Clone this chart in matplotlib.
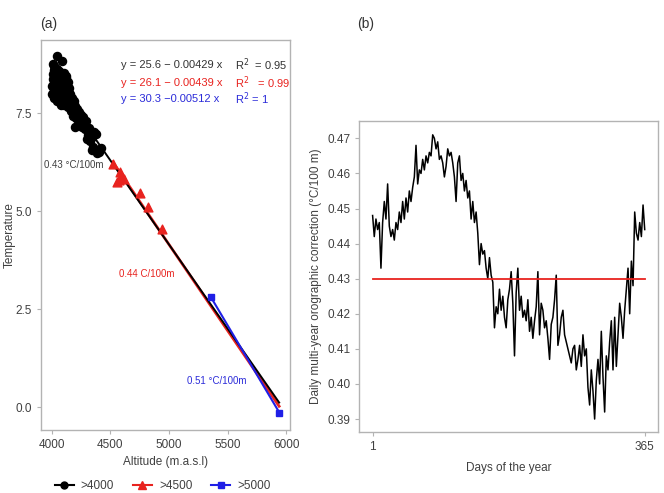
import numpy as np
import matplotlib
matplotlib.use("Agg")
import matplotlib.pyplot as plt
from matplotlib.lines import Line2D

plt.rcParams['font.family'] = ['Liberation Sans', 'DejaVu Sans']

# panel (a): stations above 4000 m
alt_4000 = [4040, 4085, 4010, 4020, 4030, 4015, 4035, 4045, 4060, 4008, 4025, 4050, 4070, 4090,
            4012, 4030, 4055, 4080, 4100, 4018, 4040, 4065, 4095, 4110, 4005, 4028, 4050, 4075,
            4105, 4125, 4015, 4035, 4060, 4085, 4115, 4140, 4010, 4030, 4045, 4070, 4095, 4130,
            4155, 4050, 4080, 4110, 4145, 4170, 4020, 4090, 4120, 4160, 4185, 4140, 4175, 4200,
            4215, 4160, 4195, 4230, 4250, 4180, 4210, 4240, 4270, 4260, 4295, 4200, 4225, 4255,
            4285, 4320, 4310, 4340, 4300, 4330, 4360, 4375, 4350, 4370, 4385, 4405, 4420, 4340,
            4120, 4140, 4150, 4130, 4100, 4165, 4060, 4040, 4005, 4100, 4125, 4150, 4190, 4075]
temp_4000 = [8.95, 8.84, 8.75, 8.70, 8.65, 8.60, 8.55, 8.62, 8.58, 8.50, 8.45, 8.48, 8.52, 8.45,
             8.38, 8.35, 8.40, 8.38, 8.42, 8.28, 8.25, 8.30, 8.28, 8.32, 8.20, 8.18, 8.15, 8.20,
             8.18, 8.22, 8.10, 8.05, 8.08, 8.10, 8.05, 8.12, 7.98, 7.95, 8.00, 7.98, 7.95, 7.98,
             8.00, 7.88, 7.85, 7.88, 7.85, 7.90, 7.90, 7.78, 7.75, 7.75, 7.80, 7.65, 7.62, 7.68,
             7.60, 7.55, 7.50, 7.52, 7.45, 7.42, 7.38, 7.35, 7.40, 7.28, 7.30, 7.15, 7.22, 7.15,
             7.10, 7.12, 6.95, 6.90, 6.85, 6.80, 7.02, 6.98, 6.65, 6.55, 6.48, 6.50, 6.62, 6.55,
             8.40, 8.30, 8.15, 7.92, 7.70, 7.70, 7.95, 7.82, 8.00, 8.52, 8.45, 8.02, 7.55, 7.70]

alt_4500 = [4526, 4583, 4597, 4569, 4617, 4560, 4754, 4819, 4944]
temp_4500 = [6.20, 6.01, 5.88, 5.80, 5.83, 5.75, 5.46, 5.12, 4.54]

alt_5000 = [5357, 5942]
temp_5000 = [2.81, -0.14]

# fitted lines (intercept, slope)
fit_4000 = (25.6, -0.00429)
fit_4500 = (26.1, -0.00439)

# panel (b): daily multi-year orographic correction
corr = [0.448, 0.442, 0.447, 0.444, 0.446, 0.433, 0.446, 0.452, 0.447, 0.457, 0.445, 0.442,
        0.444, 0.441, 0.446, 0.444, 0.449, 0.446, 0.452, 0.447, 0.453, 0.449, 0.455, 0.452,
        0.456, 0.459, 0.468, 0.457, 0.461, 0.460, 0.464, 0.461, 0.465, 0.463, 0.466, 0.465,
        0.471, 0.470, 0.467, 0.469, 0.464, 0.465, 0.463, 0.459, 0.462, 0.467, 0.465, 0.466,
        0.463, 0.459, 0.452, 0.463, 0.465, 0.458, 0.460, 0.455, 0.458, 0.453, 0.455, 0.447,
        0.452, 0.446, 0.449, 0.443, 0.434, 0.440, 0.437, 0.438, 0.433, 0.430, 0.436, 0.431,
        0.429, 0.416, 0.422, 0.420, 0.427, 0.421, 0.425, 0.419, 0.416, 0.424, 0.427, 0.432,
        0.423, 0.408, 0.426, 0.433, 0.421, 0.425, 0.419, 0.421, 0.418, 0.424, 0.415, 0.419,
        0.413, 0.418, 0.422, 0.432, 0.414, 0.423, 0.421, 0.416, 0.418, 0.413, 0.407, 0.417,
        0.419, 0.424, 0.431, 0.411, 0.414, 0.419, 0.421, 0.414, 0.412, 0.410, 0.408, 0.406,
        0.410, 0.411, 0.404, 0.407, 0.411, 0.405, 0.414, 0.408, 0.410, 0.399, 0.394, 0.404,
        0.398, 0.390, 0.401, 0.407, 0.400, 0.415, 0.402, 0.392, 0.408, 0.404, 0.412, 0.418,
        0.404, 0.419, 0.405, 0.414, 0.423, 0.419, 0.413, 0.421, 0.427, 0.433, 0.420, 0.435,
        0.428, 0.449, 0.443, 0.441, 0.446, 0.442, 0.451, 0.444]
mean_corr = 0.43

txt = '#404040'
spine = '#b3b3b3'

fig = plt.figure(figsize=(6.64, 4.93), dpi=100)
ax1 = fig.add_axes([0.062, 0.128, 0.375, 0.791])
ax2 = fig.add_axes([0.541, 0.123, 0.450, 0.632])

# ---- (a)
xs = np.array([4000, 5940])
ax1.plot([4520, 5940], fit_4500[0] + fit_4500[1] * np.array([4520, 5940]), color='#e8231f', lw=2, zorder=2)
ax1.plot(xs, fit_4000[0] + fit_4000[1] * xs, color='black', lw=1.4, zorder=3)
ax1.plot(alt_5000, temp_5000, color='#1f1fe6', lw=1.5, marker='s', ms=5, zorder=4)
ax1.scatter(alt_4000, temp_4000, s=34, color='black', zorder=5)
ax1.scatter(alt_4500, temp_4500, s=40, marker='^', color='#e8231f', zorder=5)

ax1.set_xlim(3909, 6034)
ax1.set_ylim(-0.58, 9.37)
ax1.set_xticks([4000, 4500, 5000, 5500, 6000])
ax1.set_yticks([0.0, 2.5, 5.0, 7.5])
ax1.set_yticklabels(['0.0', '2.5', '5.0', '7.5'])
ax1.set_xlabel('Altitude (m.a.s.l)', fontsize=8.5, color=txt)
ax1.set_ylabel('Temperature', fontsize=8.5, color=txt, labelpad=0)

ax1.text(4589, 8.73, 'y = 25.6 − 0.00429 x', fontsize=8, color='#333333', va='center')
ax1.text(5564, 8.73, 'R$^2$  = 0.95', fontsize=8, color='#333333', va='center')
ax1.text(4589, 8.28, 'y = 26.1 − 0.00439 x', fontsize=8, color='#e8231f', va='center')
ax1.text(5564, 8.28, 'R$^2$   = 0.99', fontsize=8, color='#e8231f', va='center')
ax1.text(4589, 7.86, 'y = 30.3 −0.00512 x', fontsize=8, color='#2b2bd9', va='center')
ax1.text(5564, 7.86, 'R$^2$ = 1', fontsize=8, color='#2b2bd9', va='center')

ax1.text(3929, 6.18, '0.43 °C/100m', fontsize=7, color='#404040', va='center')
ax1.text(4569, 3.39, '0.44 C/100m', fontsize=7, color='#e8231f', va='center')
ax1.text(5152, 0.67, '0.51 °C/100m', fontsize=7, color='#2b2bd9', va='center')

handles = [Line2D([], [], color='black', marker='o', lw=1.5, ms=5),
           Line2D([], [], color='#e8231f', marker='^', lw=1.5, ms=6),
           Line2D([], [], color='#1f1fe6', marker='s', lw=1.5, ms=5)]
fig.legend(handles, ['>4000', '>4500', '>5000'], loc='center', bbox_to_anchor=(0.245, 0.014),
           ncol=3, frameon=False, fontsize=8.5, handlelength=1.6, columnspacing=1.6,
           handletextpad=0.6, labelcolor=txt)

# ---- (b)
days = np.linspace(1, 365, len(corr))
ax2.plot(days, corr, color='black', lw=1.1)
ax2.plot([1, 365], [mean_corr, mean_corr], color='#e8231f', lw=1.3)
ax2.set_xlim(-16.9, 382.8)
ax2.set_ylim(0.3862, 0.475)
ax2.set_xticks([1, 365])
ax2.set_yticks([0.39, 0.40, 0.41, 0.42, 0.43, 0.44, 0.45, 0.46, 0.47])
ax2.set_xlabel('Days of the year', fontsize=8.5, color=txt, labelpad=6)
ax2.set_ylabel('Daily multi-year orographic correction (°C/100 m)', fontsize=8.5, color=txt)

for ax in (ax1, ax2):
    for s in ax.spines.values():
        s.set_color(spine)
        s.set_linewidth(1)
    ax.tick_params(colors=spine, labelcolor=txt, labelsize=8.5, length=3)

fig.text(40 / 664, 1 - 24 / 493, '(a)', fontsize=10, color='#333333', va='center')
fig.text(357 / 664, 1 - 24 / 493, '(b)', fontsize=10, color='#333333', va='center')

fig.savefig('out.png', dpi=100)
